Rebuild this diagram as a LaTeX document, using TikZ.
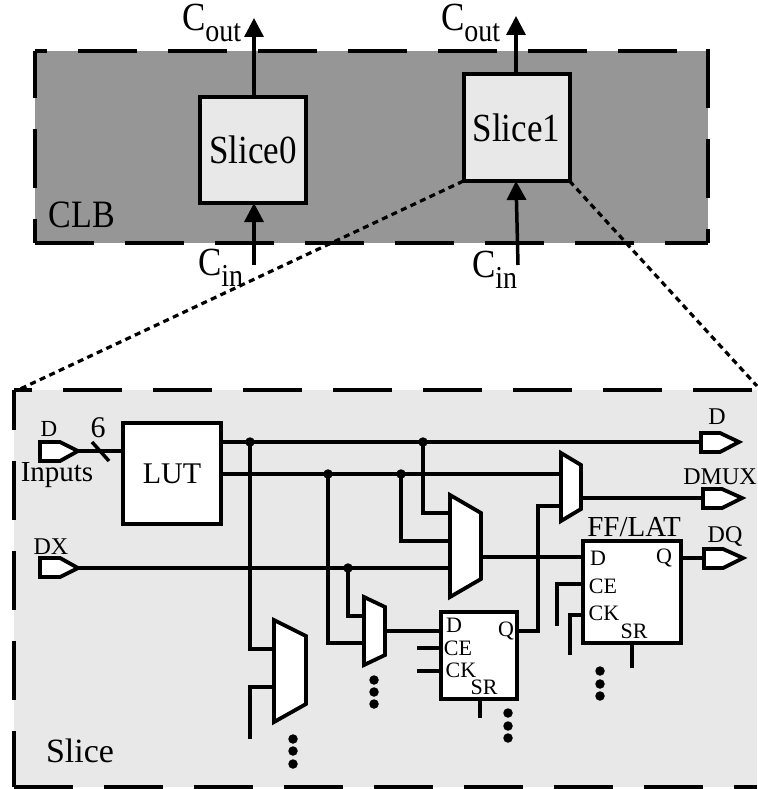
\documentclass[tikz,border=0pt]{standalone}
\usepackage{fontspec}
\setmainfont{Liberation Serif}
\usetikzlibrary{arrows.meta,calc}
\newcommand\fsz[1]{\fontsize{#1}{#1}\selectfont}
\newcommand\tall[1]{\scalebox{1}[1.14]{#1}}
\definecolor{clbgray}{HTML}{969696}
\definecolor{panelgray}{HTML}{E8E8E8}
\tikzset{
  wire/.style={line width=3.5pt,line cap=butt,line join=miter},
  elbow/.style={wire},
  dashedge/.style={line width=3.5pt,dash pattern=on 59pt off 31pt},
  zoomline/.style={line width=3.2pt,dash pattern=on 6pt off 4.5pt},
  carry/.style={line width=3.5pt,-{Triangle[width=19pt,length=19pt]}},
  slicebox/.style={draw,fill=panelgray,line width=4pt,inner sep=0pt,outer sep=0pt,minimum width=106pt,minimum height=106pt,font=\fsz{35}},
  logicbox/.style={draw,fill=white,line width=3.8pt,inner sep=0pt,outer sep=0pt},
  muxshape/.style={draw,fill=white,line width=3.8pt,line join=miter},
  portshape/.style={draw,fill=white,line width=3.8pt,line join=miter},
  junction/.style={circle,fill=black,inner sep=0pt,minimum size=9.5pt},
  moredot/.style={circle,fill=black,inner sep=0pt,minimum size=9.5pt},
  txt/.style={inner sep=0pt,outer sep=0pt},
  pin/.style={txt,font=\fsz{22}},
}
\begin{document}
\begin{tikzpicture}[x=1pt,y=-1pt]
\useasboundingbox (0,0) rectangle (757,789);
% CLB panel
\fill[clbgray] (35,51) rectangle (708,243);
\draw[dashedge,dash phase=47pt] (35,51) -- (708,51);
\draw[dashedge,dash phase=12pt] (35,51) -- (35,243);
\draw[dashedge] (35,243) -- (708,243);
\draw[dashedge] (708,49) -- (708,243);
\node[txt,font=\fsz{34}] (clb) at (82,215) {\tall{CLB}};
\node[slicebox] (s0) at (253,150) {\tall{Slice0}};
\node[slicebox,minimum height=107pt] (s1) at (516.5,127.5) {\tall{Slice1}};
% carry
\coordinate (cot0) at (254,18);
\coordinate (cot1) at (516,16);
\coordinate (cib0) at (254,265);
\coordinate (cib1) at (518,265);
\draw[carry] (s0.north -| cot0) -- (cot0);
\draw[carry] (s1.north -| cot1) -- (cot1);
\draw[carry] (cib0) -- (s0.south -| cib0);
\draw[carry] (cib1) -- (s1.south -| cot1);
% zoom lines
\coordinate (zl) at (18,390);
\coordinate (zr) at (757,386);
\draw[zoomline] (s1.south west) -- (zl);
\draw[zoomline] (s1.south east) -- (zr);
% labels for carry
\node[txt,anchor=base west,font=\fsz{35}] (cout0) at (182,31) {\tall{C\raisebox{-9pt}{\fsz{28}out}}};
\node[txt,anchor=base west,font=\fsz{35}] (cout1) at (441,31) {\tall{C\raisebox{-9pt}{\fsz{28}out}}};
\node[txt,anchor=base west,font=\fsz{35}] (cin0) at (198,275) {\tall{C\raisebox{-10pt}{\fsz{28}in}}};
\node[txt,anchor=base west,font=\fsz{35}] (cin1) at (472,277) {\tall{C\raisebox{-10pt}{\fsz{28}in}}};
% Slice panel
\fill[panelgray] (14,390) rectangle (757,787);
\draw[dashedge,dash phase=41pt] (14,390) -- (757,390);
\draw[dashedge,dash phase=19pt] (14,390) -- (14,787);
\draw[dashedge] (14,787) -- (757,787);
\node[txt,font=\fsz{34}] (slicelbl) at (80,751) {Slice};
% boxes
\node[logicbox,anchor=north west,minimum width=98pt,minimum height=101pt,font=\fsz{30}] (lut) at (123,423) {LUT};
\node[logicbox,anchor=north west,minimum width=76pt,minimum height=87pt] (ff1) at (441,612) {};
\node[logicbox,anchor=north west,minimum width=98pt,minimum height=102pt] (ff2) at (583,541) {};
% port shapes with tips
\coordinate (ind) at (78,451);
\coordinate (indx) at (78,568);
\coordinate (outd) at (739,442);
\coordinate (outm) at (742,498);
\coordinate (outq) at (743,558);
% coordinates of pins
\coordinate (m1a) at (274,649);
\coordinate (m1b) at (274,687);
\coordinate (m2a) at (364,616);
\coordinate (m2b) at (364,643);
\coordinate (m2o) at (385,631);
\coordinate (m3a) at (450,513);
\coordinate (m3b) at (450,541);
\coordinate (m3c) at (450,568);
\coordinate (m3o) at (481,557);
\coordinate (m4a) at (561,474);
\coordinate (m4b) at (561,506);
\coordinate (m4o) at (581,498);
\coordinate (j1) at (250,442);
\coordinate (j2) at (328,474);
\coordinate (j3) at (348,568);
\coordinate (j4) at (423,442);
\coordinate (j5) at (401,474);
\coordinate (e1) at (250,739);
\coordinate (e2) at (417,648);
\coordinate (e3) at (417,671);
\coordinate (e4) at (480,718);
\coordinate (e5) at (557,626);
\coordinate (e6) at (570,655);
\coordinate (e7) at (632,668);
\coordinate (t1) at (538,506);
% wires
\draw[wire] (ind) -- (ind -| lut.west);
\draw[wire] (92,442) -- (109,461);
\draw[wire] (lut.east |- outd) -- (outd);
\draw[wire] (lut.east |- m4a) -- (m4a);
\draw[wire] (indx) -- (m3c);
\draw[elbow] (j1) |- (m1a);
\draw[elbow] (e1) |- (m1b);
\draw[elbow] (j2) |- (m2b);
\draw[elbow] (j3) |- (m2a);
\draw[elbow] (j4) |- (m3a);
\draw[elbow] (j5) |- (m3b);
\draw[wire] (m2o) -- (m2o -| ff1.west);
\draw[elbow] (ff1.east |- m2o) -| (t1) -- (m4b);
\draw[wire] (m3o) -- (m3o -| ff2.west);
\draw[wire] (m4o) -- (outm);
\draw[wire] (ff2.east |- outq) -- (outq);
\draw[wire] (e2) -- (e2 -| ff1.west);
\draw[wire] (e3) -- (e3 -| ff1.west);
\draw[wire] (ff1.south -| e4) -- (e4);
\draw[elbow] (e5) |- (584,584);
\draw[elbow] (e6) |- (584,615);
\draw[wire] (ff2.south -| e7) -- (e7);
% junction dots
\node[junction] (dj1) at (j1) {};
\node[junction] (dj2) at (j2) {};
\node[junction] (dj3) at (j3) {};
\node[junction] (dj4) at (j4) {};
\node[junction] (dj5) at (j5) {};
% muxes
\draw[muxshape] (274,620) -- (306,636) -- (306,704) -- (274,722) -- cycle;
\draw[muxshape] (364,597) -- (385,607) -- (385,655) -- (364,665) -- cycle;
\draw[muxshape] (450,495) -- (481,513) -- (481,579) -- (450,597) -- cycle;
\draw[muxshape] (561,453) -- (581,465) -- (581,509) -- (561,521) -- cycle;
% ports
\draw[portshape] (40,442) -- (60,442) -- (ind) -- (60,461) -- (40,461) -- cycle;
\draw[portshape] (40,558) -- (60,558) -- (indx) -- (60,577) -- (40,577) -- cycle;
\draw[portshape] (701,433) -- (720,433) -- (outd) -- (720,452) -- (701,452) -- cycle;
\draw[portshape] (703,489) -- (722,489) -- (outm) -- (722,508) -- (703,508) -- cycle;
\draw[portshape] (704,549) -- (723,549) -- (outq) -- (723,568) -- (704,568) -- cycle;
% ellipsis dots
\foreach \n/\x/\y in {a/293/739,b/293/751,c/293/764,d/374/680,e/374/692,f/374/704,g/508/713,h/508/726,i/508/738,k/600/671,l/600/684,m/600/696}
  \node[moredot] (dot\n) at (\x,\y) {};
% labels
\node[txt,font=\fsz{23}] (ld) at (49,429) {D};
\node[txt,font=\fsz{30}] (l6) at (98,428) {6};
\node[txt,font=\fsz{29}] (linp) at (57,475) {Inputs};
\node[txt,font=\fsz{24}] (ldx) at (51,547) {DX};
\node[txt,font=\fsz{24}] (lod) at (717,417) {D};
\node[txt,font=\fsz{24}] (ldm) at (720,477) {DMUX};
\node[txt,font=\fsz{24}] (ldq) at (725,536) {DQ};
\node[txt,font=\fsz{29}] (lff) at (634,527) {FF/LAT};
\node[pin] (f2d) at (598,558) {D};
\node[pin] (f2q) at (664,558) {Q};
\node[pin] (f2ce) at (603,586) {CE};
\node[pin] (f2ck) at (604,613) {CK};
\node[pin] (f2sr) at (634,631) {SR};
\node[pin] (f1d) at (454,625) {D};
\node[pin] (f1q) at (506,631) {Q};
\node[pin] (f1ce) at (458,648) {CE};
\node[pin] (f1ck) at (461,670) {CK};
\node[pin] (f1sr) at (484,687) {SR};
\end{tikzpicture}
\end{document}
